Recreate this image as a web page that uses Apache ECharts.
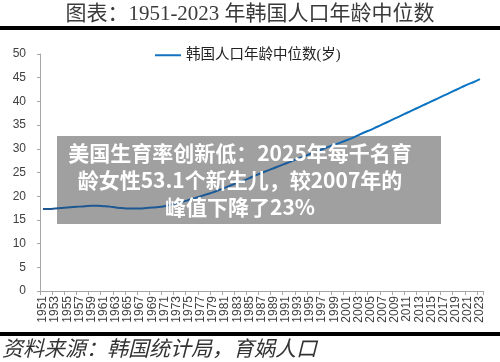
<!DOCTYPE html>
<html>
<head>
<meta charset="utf-8">
<script src="https://cdn.jsdelivr.net/npm/echarts@6/dist/echarts.min.js"></script>
<style>
html,body{margin:0;padding:0;background:#fff;}
#chart{width:500px;height:362px;}
</style>
</head>
<body>
<div id="chart"></div>
<script>
// ---- data ----
var years = [];
for (var y = 1951; y <= 2023; y++) { years.push(String(y)); }
var medianAge = [
  17.3, 17.3, 17.4, 17.5, 17.6, 17.7, 17.8, 17.9, 18.0, 18.0,
  17.9, 17.8, 17.6, 17.5, 17.4, 17.4, 17.4, 17.5, 17.6, 17.7,
  17.9, 18.2, 18.5, 18.8, 19.2, 19.6, 20.0, 20.4, 20.8, 21.3,
  21.8, 22.3, 22.8, 23.3, 23.8, 24.4, 24.9, 25.4, 25.9, 26.4,
  26.9, 27.4, 27.9, 28.4, 28.9, 29.4, 29.9, 30.4, 30.9, 31.3,
  31.8, 32.3, 32.9, 33.5, 34.0, 34.6, 35.2, 35.8, 36.4, 37.0,
  37.6, 38.2, 38.8, 39.4, 40.0, 40.6, 41.2, 41.8, 42.4, 43.0,
  43.6, 44.1, 44.7
];
var seriesName = '韩国人口年龄中位数(岁)';
var titleText = '图表：1951-2023 年韩国人口年龄中位数';
var sourceText = '资料来源：韩国统计局，育娲人口';
var overlayText = '美国生育率创新低：2025年每千名育\n龄女性53.1个新生儿，较2007年的\n峰值下降了23%';
var yTicks = [0, 5, 10, 15, 20, 25, 30, 35, 40, 45, 50];

var chart = echarts.init(document.getElementById('chart'), null, {renderer: 'canvas'});
var serif = '"Liberation Serif", "Noto Sans CJK SC", serif';
var sans = '"Liberation Sans", Arial, sans-serif';

chart.setOption({
  animation: false,
  backgroundColor: '#ffffff',
  grid: {left: 40, right: 17, top: 54, bottom: 71, containLabel: false},
  legend: {
    data: [{name: seriesName, icon: 'rect'}],
    left: 150, top: 43,
    itemWidth: 26, itemHeight: 2,
    itemGap: 5,
    itemStyle: {color: '#1473c0'},
    textStyle: {fontFamily: serif, fontSize: 14.5, color: '#222'}
  },
  xAxis: {
    type: 'category',
    data: years,
    boundaryGap: true,
    axisLine: {lineStyle: {color: '#a6a6a6', width: 1}},
    axisTick: {show: true, interval: 1, length: 4, lineStyle: {color: '#a6a6a6'}},
    axisLabel: {interval: 1, rotate: 90, margin: 5, fontFamily: sans, fontSize: 12, color: '#404040'},
    splitLine: {show: false}
  },
  yAxis: {
    type: 'value',
    min: yTicks[0], max: yTicks[yTicks.length - 1], interval: 5,
    axisLine: {show: true, lineStyle: {color: '#a6a6a6', width: 1}},
    axisTick: {show: true, length: 3, lineStyle: {color: '#a6a6a6'}},
    axisLabel: {margin: 14, fontFamily: sans, fontSize: 12, color: '#404040'},
    splitLine: {show: false}
  },
  series: [{
    name: seriesName,
    type: 'line',
    data: medianAge,
    smooth: 0.3,
    showSymbol: false,
    symbol: 'none',
    z: 5,
    lineStyle: {
      width: 2,
      color: new echarts.graphic.LinearGradient(0, 0, 1, 0, [
        {offset: 0, color: '#1d5690'},
        {offset: 0.6, color: '#1a5c9c'},
        {offset: 0.75, color: '#0a70bf'},
        {offset: 1, color: '#0a76c6'}
      ])
    }
  }],
  graphic: [
    {type: 'rect', left: 0, top: 26, z: 10, shape: {width: 500, height: 4}, style: {fill: '#000'}},
    {type: 'rect', left: 0, top: 332, z: 10, shape: {width: 500, height: 4}, style: {fill: '#000'}},
    {type: 'text', x: 250, y: 14, z: 10, style: {
      text: titleText, fill: '#3a3a3a', font: '21px ' + serif, textAlign: 'center', textVerticalAlign: 'middle'}},
    {type: 'text', x: 2, y: 350, z: 10, style: {
      text: sourceText, fill: '#333', font: 'italic 21px ' + serif, textAlign: 'left', textVerticalAlign: 'middle'}},
    {type: 'rect', left: 57, top: 136, z: 1, shape: {width: 384, height: 88}, style: {fill: '#a0a0a0'}},
    {type: 'text', x: 240, y: 180, z: 100, style: {
      text: overlayText, fill: '#ffffff', font: 'bold 21px "Noto Sans CJK SC", sans-serif',
      textAlign: 'center', textVerticalAlign: 'middle', lineHeight: 27}}
  ]
});
</script>
</body>
</html>
